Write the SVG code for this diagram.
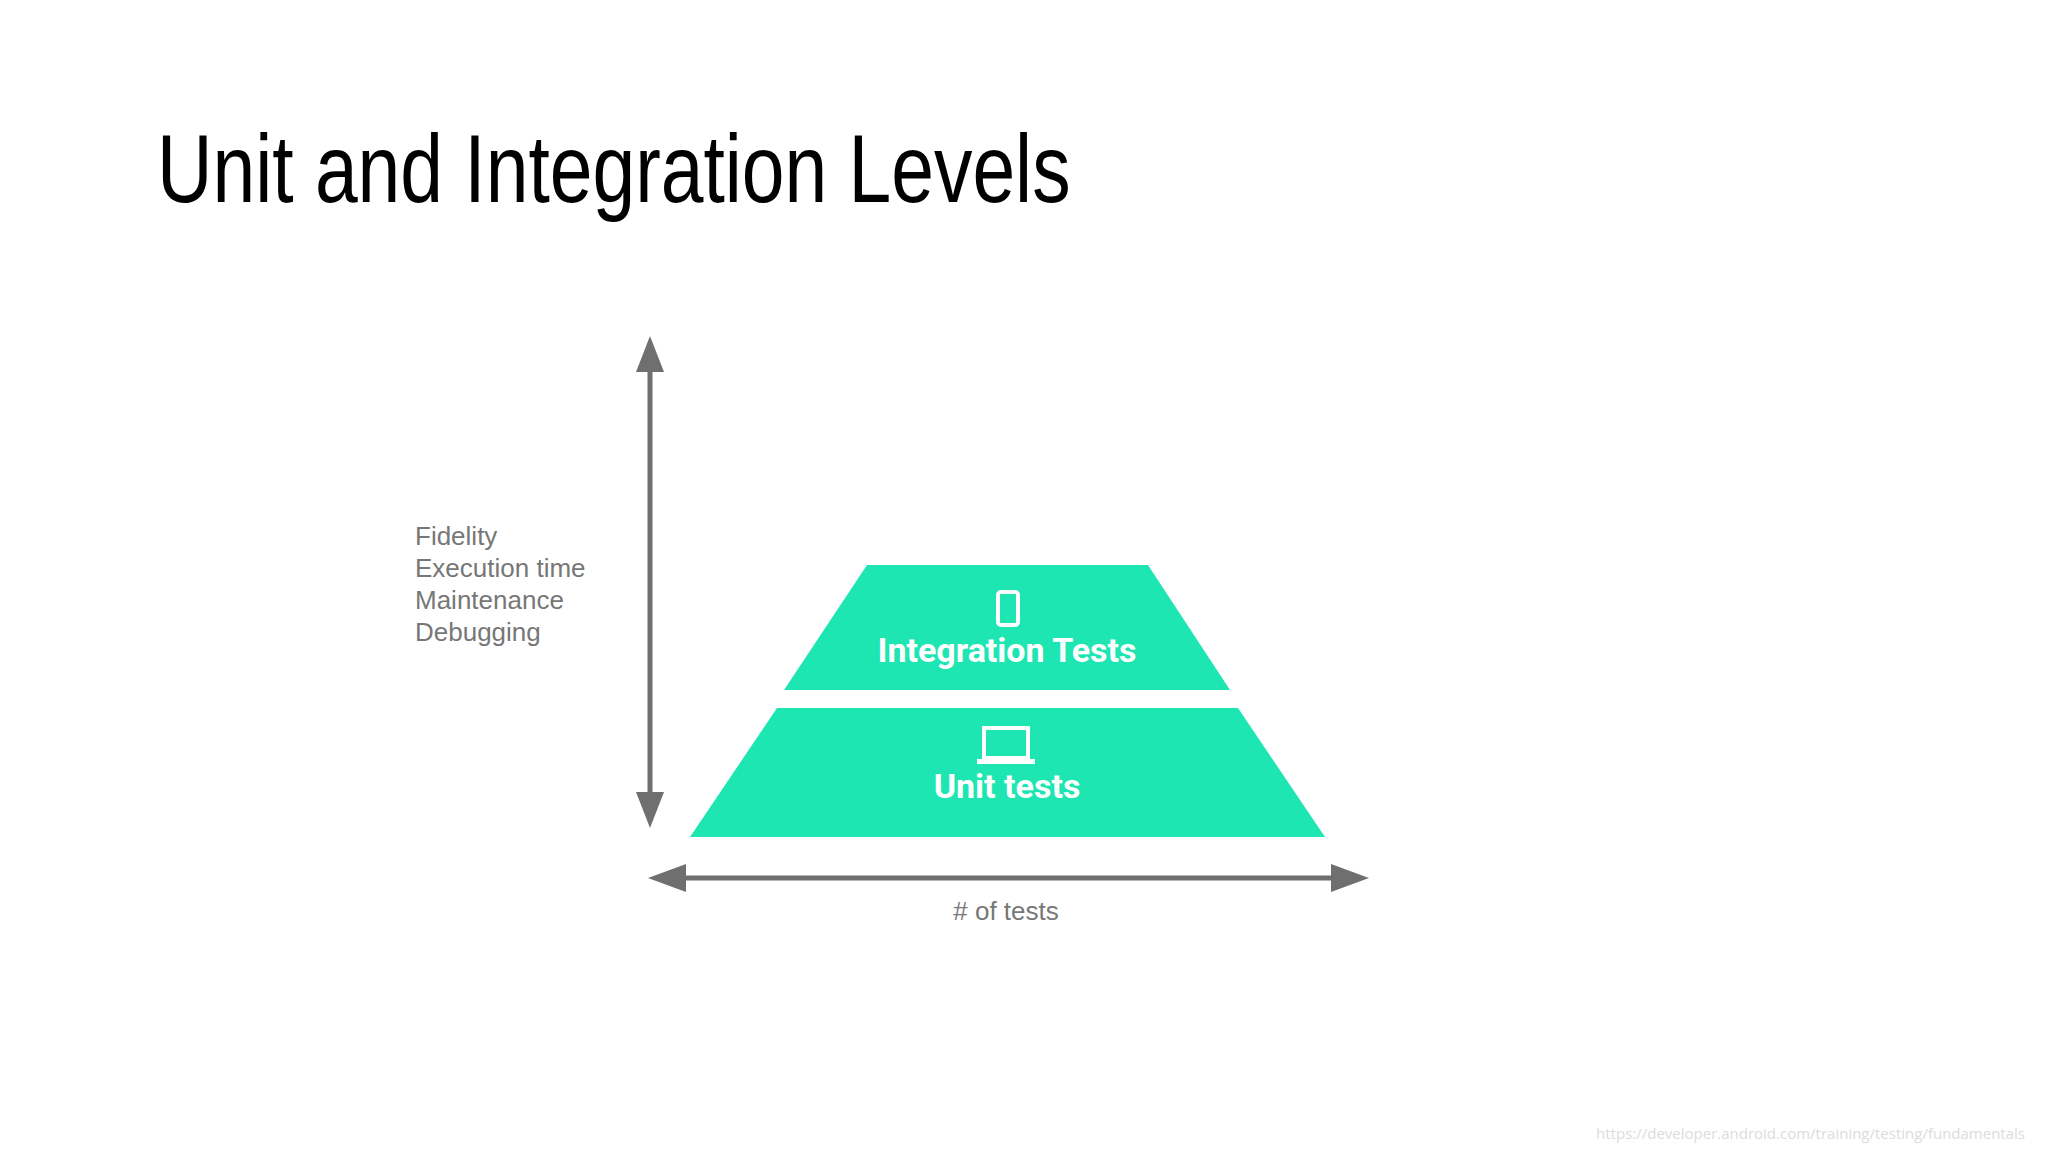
<svg xmlns="http://www.w3.org/2000/svg" width="2048" height="1152" viewBox="0 0 2048 1152">
<defs>
<style>
.lab{font-family:"Liberation Sans",Arial,sans-serif;font-size:26px;fill:#777}
.tier{font-family:Roboto,"Liberation Sans",sans-serif;font-weight:bold;font-size:34px;fill:#fff;text-anchor:middle}
.tr{fill:#1ee6b2}
.ax{stroke:#6f6f6f;stroke-width:5;fill:none}
.ah{fill:#6f6f6f}
</style>
</defs>
<rect width="2048" height="1152" fill="#fff"/>
<text transform="translate(157,202) scale(0.8,1)" font-family="Liberation Sans,Arial,sans-serif" font-size="96" fill="#000">Unit and Integration Levels</text>
<g id="connectors">
<line class="ax" x1="650" y1="360" x2="650" y2="805"/>
<polygon class="ah" points="650,336 636,372 664,372"/>
<polygon class="ah" points="650,828 636,792 664,792"/>
<line class="ax" x1="672" y1="878" x2="1345" y2="878"/>
<polygon class="ah" points="648,878 686,864 686,892"/>
<polygon class="ah" points="1369,878 1331,864 1331,892"/>
</g>
<g id="labels">
<text class="lab" x="415" y="545">Fidelity</text>
<text class="lab" x="415" y="577">Execution time</text>
<text class="lab" x="415" y="609">Maintenance</text>
<text class="lab" x="415" y="641">Debugging</text>
<text class="lab" x="1006" y="920" text-anchor="middle">#  of tests</text>
</g>
<g id="integration">
<polygon class="tr" points="867,565 1148,565 1230,690 784,690"/>
<rect x="998" y="592" width="20" height="33" rx="3" fill="none" stroke="#fff" stroke-width="4"/>
<text class="tier" x="1007" y="662">Integration Tests</text>
</g>
<g id="unit">
<polygon class="tr" points="777,708 1238,708 1325,837 690,837"/>
<rect x="984" y="728" width="44" height="30" fill="none" stroke="#fff" stroke-width="4"/>
<rect x="977" y="759" width="58" height="5" fill="#fff"/>
<text class="tier" x="1007" y="798">Unit tests</text>
</g>
<text x="2025" y="1139" text-anchor="end" font-family="Open Sans,sans-serif" font-size="15" fill="#dcdcdc">https://developer.android.com/training/testing/fundamentals</text>
</svg>
